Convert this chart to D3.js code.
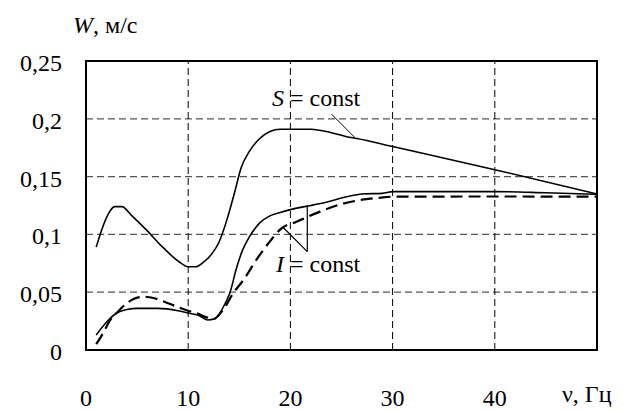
<!DOCTYPE html>
<html>
<head>
<meta charset="utf-8">
<script src="https://cdn.jsdelivr.net/npm/d3@7"></script>
<style>
  body { margin: 0; background: #fff; }
  #wrap { position: relative; width: 635px; height: 410px; overflow: hidden; }
  #chart { position: absolute; left: 0; top: 0; }
  .lbl { position: absolute; white-space: nowrap; font-family: 'Liberation Serif', Tinos, 'Times New Roman', serif;
         font-size: 24px; line-height: 24px; color: #000; }
</style>
</head>
<body>
<div id="wrap"><svg id="chart" width="635" height="410"></svg></div>
<script>
// Curve S = const
var freqS = [1, 1.5, 2.2, 2.8, 3.5, 4.5, 6, 7.5, 9, 10, 10.7, 11.5, 12.3, 13, 13.8, 14.5, 15.2, 16, 17, 18, 19, 20, 22, 24, 25.5, 26.5, 30, 40, 50];
var wS = [0.089, 0.103, 0.118, 0.124, 0.124, 0.116, 0.103, 0.089, 0.077, 0.072, 0.072, 0.076, 0.083, 0.093, 0.113, 0.135, 0.158, 0.172, 0.183, 0.189, 0.191, 0.191, 0.191, 0.188, 0.1845, 0.183, 0.176, 0.156, 0.135];

// Curve I = const, solid
var freqI1 = [1, 2, 3, 4, 5, 7, 9, 10, 11, 11.9, 12.6, 13.1, 13.6, 14.1, 14.7, 15.3, 16, 17, 18, 19, 20.5, 22, 23.6, 25.5, 27, 29, 30, 40, 45, 50];
var wI1 = [0.013, 0.024, 0.032, 0.035, 0.036, 0.036, 0.034, 0.032, 0.030, 0.026, 0.027, 0.032, 0.040, 0.050, 0.070, 0.086, 0.098, 0.110, 0.116, 0.119, 0.1225, 0.125, 0.128, 0.1325, 0.135, 0.1355, 0.137, 0.137, 0.136, 0.1347];

// Curve I = const, dashed
var freqI2 = [1, 1.7, 2.3, 3, 3.8, 4.6, 5.6, 6.6, 7.6, 8.9, 10, 10.8, 11.9, 12.5, 13.4, 14.4, 15.4, 16.9, 18, 19.1, 20.6, 22.9, 24.9, 26.8, 28.5, 30, 40, 50];
var wI2 = [0.005, 0.015, 0.025, 0.032, 0.039, 0.044, 0.046, 0.045, 0.042, 0.0375, 0.034, 0.032, 0.028, 0.027, 0.0345, 0.049, 0.0605, 0.081, 0.094, 0.105, 0.111, 0.1197, 0.126, 0.1297, 0.1315, 0.1326, 0.1328, 0.1326];

var xTicks = [0, 10, 20, 30, 40];
var yTicks = [0, 0.05, 0.1, 0.15, 0.2, 0.25];
var yLabels = ["0", "0,05", "0,1", "0,15", "0,2", "0,25"];

var svg = d3.select("#chart");
var wrap = d3.select("#wrap");
var x = d3.scaleLinear().domain([0, 50]).range([86, 597]);
var y = d3.scaleLinear().domain([0, 0.25]).range([350, 61]);

// Serif labels are HTML divs over the svg (svg text fell back to sans here).
// Baseline sits ~20px below the div top at 24px.
function addLabel(px, baseline, anchor, html) {
    var div = wrap.append("div").attr("class", "lbl")
        .style("top", (baseline - 20) + "px")
        .html(html);
    if (anchor === "end") div.style("right", (635 - px) + "px");
    else if (anchor === "middle") div.style("left", px + "px").style("transform", "translateX(-50%)");
    else div.style("left", px + "px");
    return div;
}

// Grid
svg.append("g").selectAll("line")
    .data(yTicks.filter(function(d) { return d > 0 && d < 0.25; }))
    .enter().append("line")
    .attr("x1", x(0)).attr("x2", x(50))
    .attr("y1", function(d) { return y(d); })
    .attr("y2", function(d) { return y(d); })
    .style("stroke", "#555").style("stroke-width", 1.2)
    .style("stroke-dasharray", "7,4");

svg.append("g").selectAll("line")
    .data(xTicks.filter(function(d) { return d > 0; }))
    .enter().append("line")
    .attr("x1", function(d) { return x(d); })
    .attr("x2", function(d) { return x(d); })
    .attr("y1", y(0)).attr("y2", y(0.25))
    .style("stroke", "#000").style("stroke-width", 1)
    .style("stroke-dasharray", "7,4");

// Frame
svg.append("rect")
    .attr("x", x(0)).attr("y", y(0.25))
    .attr("width", x(50) - x(0)).attr("height", y(0) - y(0.25))
    .style("fill", "none").style("stroke", "#000").style("stroke-width", 2);

// Tick labels
yTicks.forEach(function(d, i) { addLabel(62, y(d) + 10, "end", yLabels[i]); });
xTicks.forEach(function(d) { addLabel(x(d), 406, "middle", String(d)); });

// Axis titles
addLabel(73, 33, "start", "<i>W</i>, м/с");
addLabel(562, 402, "start", "ν, Гц");

// Curves
var line = d3.line()
    .x(function(d) { return x(d[0]); })
    .y(function(d) { return y(d[1]); })
    .curve(d3.curveMonotoneX);

svg.append("path")
    .attr("d", line(d3.zip(freqS, wS)))
    .style("fill", "none").style("stroke", "#000").style("stroke-width", 1.6);

svg.append("path")
    .attr("d", line(d3.zip(freqI1, wI1)))
    .style("fill", "none").style("stroke", "#000").style("stroke-width", 1.6);

svg.append("path")
    .attr("d", line(d3.zip(freqI2, wI2)))
    .style("fill", "none").style("stroke", "#000").style("stroke-width", 2.2)
    .style("stroke-dasharray", "12,6");

// Labels with leader lines
addLabel(272, 106, "start", "<i>S</i> = const");

svg.append("line")
    .attr("x1", 331.7).attr("y1", 114.3)
    .attr("x2", x(26.3)).attr("y2", y(0.1838))
    .style("stroke", "#000").style("stroke-width", 1);

addLabel(276, 272, "start", "<i>I</i> = const");

svg.append("line")
    .attr("x1", 307.3).attr("y1", 251.7)
    .attr("x2", 307.3).attr("y2", y(0.1255))
    .style("stroke", "#000").style("stroke-width", 1.2);
svg.append("line")
    .attr("x1", 307.3).attr("y1", 251.7)
    .attr("x2", x(19.3)).attr("y2", y(0.106))
    .style("stroke", "#000").style("stroke-width", 1.2);
</script>
</body>
</html>
